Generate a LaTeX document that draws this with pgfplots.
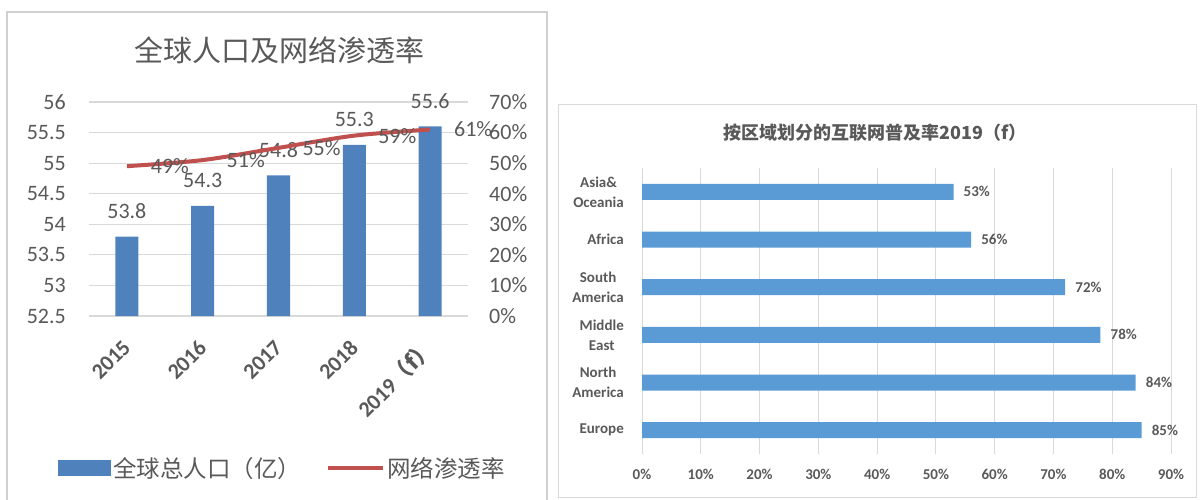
\documentclass[border=0pt]{standalone}
\usepackage{fontspec}
\setmainfont{Carlito}
\newfontfamily\cjk{Noto Sans CJK SC}
\usepackage{pgfplots}
\pgfplotsset{compat=1.18}
\definecolor{barblue}{HTML}{4F81BD}
\definecolor{linered}{HTML}{C0504D}
\definecolor{barbluetwo}{HTML}{5B9BD5}
\definecolor{txt}{HTML}{595959}
\definecolor{gridc}{HTML}{D9D9D9}
\definecolor{framec}{HTML}{D0D0D0}
\begin{document}
\begin{tikzpicture}[x=1pt,y=1pt]
\useasboundingbox (0,0) rectangle (1200,499);
\draw[framec, line width=1.5pt] (7,-5) -- (7,487) -- (547,487) -- (547,-5);
\draw[gridc, line width=1pt] (558,2) rectangle (1196,394);
\node[font=\cjk\fontsize{29}{34}\selectfont, text=txt] at (279,449) {全球人口及网络渗透率};
\node[font=\cjk\bfseries\fontsize{18}{22}\selectfont, text=txt] at (875,366) {按区域划分的互联网普及率2019（f）};

% left chart: bars
\begin{axis}[
  at={(89pt,183pt)}, anchor=south west, scale only axis,
  width=379pt, height=214pt,
  xmin=-0.5, xmax=4.5, ymin=52.5, ymax=56,
  ytick={52.5,53,53.5,54,54.5,55,55.5,56},
  xtick={0,1,2,3,4},
  xticklabels={2015,2016,2017,2018,{2019\cjk（f）}},
  axis line style={draw=none}, major tick length=0pt,
  ymajorgrids, grid style={gridc, line width=1.2pt},
  /pgf/number format/assume math mode=true,
  tick label style={font=\fontsize{22}{26}\selectfont, text=txt},
  yticklabel style={inner sep=0pt, xshift=-23pt},
  xticklabel style={yshift=-28pt, rotate=45, anchor=east, inner sep=0pt, font=\fontsize{22}{26}\selectfont\bfseries},
  ybar, bar width=23pt,
  nodes near coords,
  nodes near coords style={font=\fontsize{22}{26}\selectfont, text=txt, inner sep=0pt, anchor=south, yshift=18pt,
    /pgf/number format/.cd, fixed, precision=1, fixed zerofill, assume math mode=true},
]
\addplot[fill=barblue, draw=none] coordinates {(0,53.8) (1,54.3) (2,54.8) (3,55.3) (4,55.6)};
\end{axis}

% left chart: line
\begin{axis}[
  at={(89pt,183pt)}, anchor=south west, scale only axis,
  width=379pt, height=214pt,
  xmin=-0.5, xmax=4.5, ymin=0, ymax=70,
  ytick={0,10,...,70},
  axis x line=none,
  axis line style={draw=none}, major tick length=0pt,
  yticklabel pos=right,
  /pgf/number format/assume math mode=true,
  yticklabel={\pgfmathprintnumber{\tick}\%},
  tick label style={font=\fontsize{22}{26}\selectfont, text=txt},
  yticklabel style={inner sep=0pt, xshift=21pt, anchor=west},
  nodes near coords={\pgfmathprintnumber{\pgfplotspointmeta}\%},
  nodes near coords style={font=\fontsize{22}{26}\selectfont, text=txt, inner sep=0pt, anchor=west, xshift=22pt},
  legend style={at={(-0.0818,-0.710)}, anchor=west, draw=none, fill=none, inner sep=0pt,
    font=\cjk\fontsize{23.5}{28}\selectfont, text=txt,
    nodes={inner sep=2.5pt},
    /tikz/every even column/.append style={column sep=22pt}},
  legend columns=2,
]
\addlegendimage{legend image code/.code={\fill[barblue] (0pt,-7.5pt) rectangle (52pt,7.5pt);}}
\addlegendentry{全球总人口（亿）}
\addplot[linered, line width=4pt, smooth, mark=none,
  legend image code/.code={\draw[linered, line width=4pt] (0pt,0pt) -- (55pt,0pt);}]
  coordinates {(0,49) (1,51) (2,55) (3,59) (4,61)};
\addlegendentry{网络渗透率}
\end{axis}

% right chart
\begin{axis}[
  at={(642pt,45pt)}, anchor=south west, scale only axis,
  width=529pt, height=286pt,
  xbar, bar width=16pt,
  xmin=0, xmax=90, ymin=-0.5, ymax=5.5,
  xtick={0,10,...,90},
  /pgf/number format/assume math mode=true,
  xticklabel={\pgfmathprintnumber{\tick}\%},
  ytick={0,1,2,3,4,5},
  yticklabels={Europe,{North\\America},{Middle\\East},{South\\America},Africa,{Asia\&\\Oceania}},
  tick label style={font=\fontsize{15}{20}\selectfont\bfseries, text=txt},
  yticklabel style={align=center, inner sep=0pt, xshift=-18pt},
  xticklabel style={inner sep=0pt, yshift=-15pt},
  xmajorgrids, grid style={gridc, line width=1pt},
  axis line style={draw=none}, major tick length=0pt,
  point meta=x,
  nodes near coords={\pgfmathprintnumber{\pgfplotspointmeta}\%},
  nodes near coords style={font=\fontsize{15}{20}\selectfont\bfseries, text=txt, inner sep=0pt, anchor=west, xshift=10pt},
]
\addplot[fill=barbluetwo, draw=none] coordinates {(85,0) (84,1) (78,2) (72,3) (56,4) (53,5)};
\end{axis}
\end{tikzpicture}
\end{document}
